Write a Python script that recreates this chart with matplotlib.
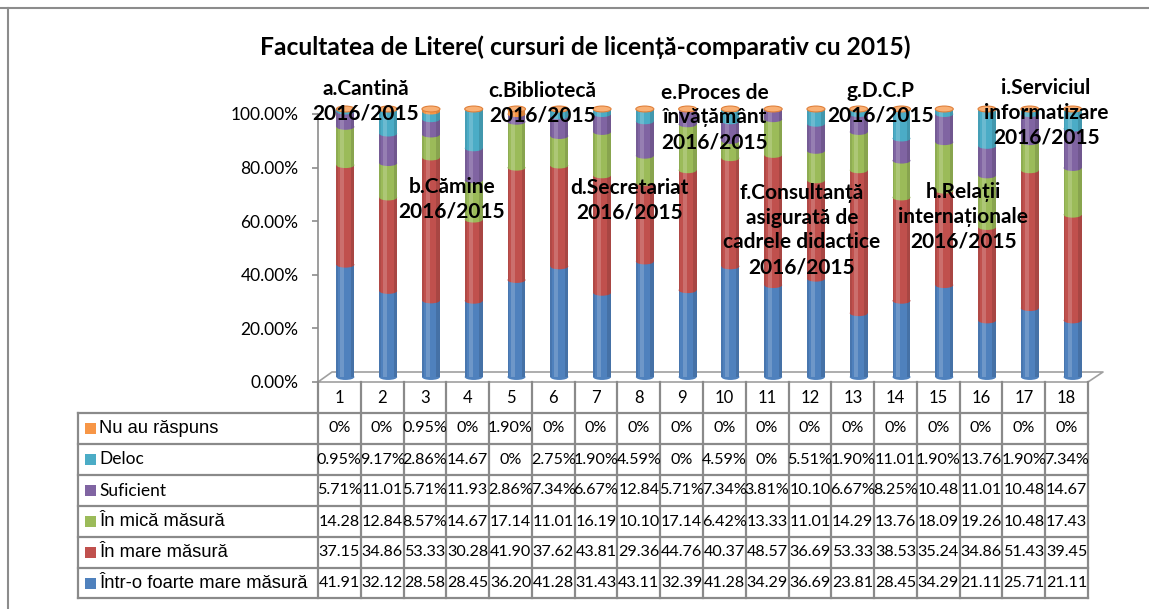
import matplotlib
matplotlib.use("Agg")
import matplotlib.pyplot as plt
from matplotlib.patches import Ellipse, Rectangle
from matplotlib.transforms import ScaledTranslation
import numpy as np

# date din tabel (procente)
categorii = [str(i) for i in range(1, 19)]
serii = ["Nu au răspuns", "Deloc", "Suficient", "În mică măsură",
         "În mare măsură", "Într-o foarte mare măsură"]
nu_au_raspuns = [0, 0, 0.95, 0, 1.90, 0, 0, 0, 0, 0, 0, 0, 0, 0, 0, 0, 0, 0]
deloc = [0.95, 9.17, 2.86, 14.67, 0, 2.75, 1.90, 4.59, 0, 4.59, 0, 5.51,
         1.90, 11.01, 1.90, 13.76, 1.90, 7.34]
suficient = [5.71, 11.01, 5.71, 11.93, 2.86, 7.34, 6.67, 12.84, 5.71, 7.34,
             3.81, 10.10, 6.67, 8.25, 10.48, 11.01, 10.48, 14.67]
mica = [14.28, 12.84, 8.57, 14.67, 17.14, 11.01, 16.19, 10.10, 17.14, 6.42,
        13.33, 11.01, 14.29, 13.76, 18.09, 19.26, 10.48, 17.43]
mare = [37.15, 34.86, 53.33, 30.28, 41.90, 37.62, 43.81, 29.36, 44.76, 40.37,
        48.57, 36.69, 53.33, 38.53, 35.24, 34.86, 51.43, 39.45]
foarte_mare = [41.91, 32.12, 28.58, 28.45, 36.20, 41.28, 31.43, 43.11, 32.39,
               41.28, 34.29, 36.69, 23.81, 28.45, 34.29, 21.11, 25.71, 21.11]
etichete = ["a.Cantină\n2016/2015", "b.Cămine\n2016/2015",
            "c.Bibliotecă\n2016/2015", "d.Secretariat\n2016/2015",
            "e.Proces de\nînvățământ\n2016/2015",
            "f.Consultanță\nasigurată de\ncadrele didactice\n2016/2015",
            "g.D.C.P\n2016/2015", "h.Relații\ninternaționale\n2016/2015",
            "i.Serviciul\ninformatizare\n2016/2015"]
titlu = "Facultatea de Litere( cursuri de licență-comparativ cu 2015)"

valori = [nu_au_raspuns, deloc, suficient, mica, mare, foarte_mare]
culori = ["#F79646", "#4BACC6", "#8064A2", "#9BBB59", "#C0504D", "#4F81BD"]

W, H = 1149, 609
fig = plt.figure(figsize=(W / 100, H / 100), dpi=100)
FONT = ["Lato", "DejaVu Sans"]
ARIAL = ["Liberation Sans", "DejaVu Sans"]

# axa "pixel" pentru cadru, podea si tabel
axp = fig.add_axes([0, 0, 1, 1], zorder=0)
axp.set_xlim(0, W)
axp.set_ylim(H, 0)
axp.axis("off")

x0, x1, ybot, ytop = 318, 1088, 382, 114
ax = fig.add_axes([x0 / W, (H - ybot) / H, (x1 - x0) / W, (ybot - ytop) / H], zorder=1)
ax.patch.set_alpha(0)
ax.set_xlim(0.5, 18.5)
ax.set_ylim(0, 100)
for s in ["top", "right", "bottom"]:
    ax.spines[s].set_visible(False)
ax.spines["left"].set_color("#8c8c8c")
ax.spines["left"].set_linewidth(1.2)
ax.set_xticks([])
ax.set_yticks(range(0, 101, 20))
ax.set_yticklabels([f"{v:.2f}%" for v in range(0, 101, 20)], family=FONT, fontsize=12.5)
ax.tick_params(axis="y", length=4, width=1.2, color="#8c8c8c", pad=10)

# cilindri (3D simulat)
trans = ax.transData + ScaledTranslation(6 / 100, 5 / 100, fig.dpi_scale_trans)
x = np.arange(1, 19)
w = 0.42
eh = 2.2
bottom = np.zeros(18)
stack = list(zip(valori, culori))[::-1]
for vals, col in stack:
    vals = np.array(vals)
    for i in range(18):
        if vals[i] <= 0:
            continue
        ax.add_patch(Rectangle((x[i] - w / 2, bottom[i]), w, vals[i], facecolor=col,
                               edgecolor="none", transform=trans, zorder=2, clip_on=False))
        ax.add_patch(Ellipse((x[i], bottom[i]), w, eh, facecolor=col,
                             edgecolor="none", transform=trans, zorder=2, clip_on=False))
    bottom += vals
# umbre/lumini
for i in range(18):
    ax.add_patch(Rectangle((x[i] - w * 0.28, 0), w * 0.22, bottom[i], facecolor="white",
                           alpha=0.18, edgecolor="none", transform=trans, zorder=3,
                           clip_on=False))
    ax.add_patch(Rectangle((x[i] + w * 0.3, 0), w * 0.2, bottom[i], facecolor="black",
                           alpha=0.12, edgecolor="none", transform=trans, zorder=3,
                           clip_on=False))
    ax.add_patch(Rectangle((x[i] - w * 0.5, 0), w * 0.1, bottom[i], facecolor="black",
                           alpha=0.08, edgecolor="none", transform=trans, zorder=3,
                           clip_on=False))
    ax.add_patch(Ellipse((x[i], bottom[i]), w, eh, facecolor="#F9B074",
                         edgecolor="#E0803A", lw=0.8, transform=trans, zorder=4,
                         clip_on=False))

# etichete categorii
lab_x = [1.62, 3.63, 5.74, 7.79, 9.78, 11.81, 13.64, 15.58, 17.52]
lab_y = [104.7, 68.1, 104.1, 67.7, 98.7, 56.7, 104.1, 61.6, 100.4]
for t, lx, ly in zip(etichete, lab_x, lab_y):
    ax.text(lx, ly, t, ha="center", va="center", fontsize=15, fontweight="bold",
            family=FONT, linespacing=1.3, zorder=6, clip_on=False)

# titlu
fig.text(585 / W, 1 - 47 / H, titlu, ha="center", va="center", fontsize=17.7,
         fontweight="bold", family=FONT)

# cadru
gri = "#8c8c8c"
axp.plot([8, 8], [8, H], color=gri, lw=1.5)
axp.plot([0, W], [8, 8], color=gri, lw=1.5)

# podea
axp.plot([x0, x1, 1103, 332, x0], [ybot, ybot, 372, 372, ybot], color="#a0a0a0", lw=1.2)

# tabel
cols = np.linspace(x0, x1, 19)
rows = [413, 444, 475, 506, 537, 568, 598]
lc = "#8a8a8a"
for cx in cols:
    axp.plot([cx, cx], [ybot, rows[-1]], color=lc, lw=1.6)
axp.plot([78, 78], [rows[0], rows[-1]], color=lc, lw=1.6)
for ry in rows:
    axp.plot([78, x1], [ry, ry], color=lc, lw=1.6)
for k, c in enumerate(categorii):
    axp.text((cols[k] + cols[k + 1]) / 2, 398, c, ha="center", va="center",
             fontsize=12, family=FONT)


def fmt(v):
    if v == 0:
        return "0%"
    if v < 10:
        return f"{v:.2f}%"
    return f"{v:.2f}"


for r, (nume, vals, col) in enumerate(zip(serii, valori, culori)):
    cy = (rows[r] + rows[r + 1]) / 2
    axp.add_patch(Rectangle((85, cy - 5.5), 11, 11, facecolor=col, edgecolor="none"))
    if nume in ("Deloc", "Suficient"):
        axp.text(99, cy, nume, ha="left", va="center", fontsize=12.5, family=FONT)
    else:
        axp.text(99, cy, nume, ha="left", va="center", fontsize=13.2, family=ARIAL)
    for k, v in enumerate(vals):
        axp.text((cols[k] + cols[k + 1]) / 2, cy, fmt(v), ha="center", va="center",
                 fontsize=11.6, family=FONT)

fig.savefig("out.png", dpi=100)
